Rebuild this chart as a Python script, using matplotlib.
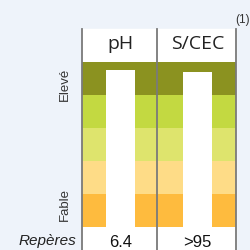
import numpy as np
import matplotlib.pyplot as plt

# Data
parametres = ['pH', 'S/CEC']
niveaux = [4.76, 4.70]          # hauteur des barres (sur 5 classes)
reperes = ['6.4', '>95']
classes_couleurs = ['#febb3e', '#fedc87', '#dee46d', '#c3d941', '#8b9220']

W = 251.0
fig = plt.figure(figsize=(2.51, 2.51), dpi=100)
fig.patch.set_facecolor('#eef3fa')

# white header / footer behind the columns
bgback = fig.add_axes([0, 0, 1, 1], zorder=-1)
bgback.set_xlim(0, W)
bgback.set_ylim(W, 0)
bgback.axis('off')
bgback.add_patch(plt.Rectangle((82, 30), 154, 221, color='white'))

# main axes: bands + bars
ax = fig.add_axes([82 / W, (W - 228) / W, 154 / W, 165 / W])
ax.set_xlim(-0.5, 1.5)
ax.set_ylim(0, 5)
for i, c in enumerate(classes_couleurs):
    ax.axhspan(i, i + 1, color=c, zorder=0, lw=0)
x = np.arange(len(parametres))
ax.bar(x, niveaux, width=0.365, color='white', zorder=2)
ax.axis('off')

# overlay: separators and labels
bg = fig.add_axes([0, 0, 1, 1], zorder=3)
bg.set_xlim(0, W)
bg.set_ylim(W, 0)
bg.axis('off')
bg.patch.set_alpha(0)
for xp in [82, 157.5, 236]:
    bg.plot([xp, xp], [30, 251], color='#7a7a7a', lw=1.3)

for xi, p, r in zip(x, parametres, reperes):
    ax.text(xi, 5.58, p, ha='center', va='center', fontsize=14,
            family='Open Sans', color='#222222', clip_on=False)
    ax.text(xi, -0.45, r, ha='center', va='center', fontsize=12,
            family='Liberation Sans', color='#111111', clip_on=False)

bg.text(65, 84, 'Elevé', rotation=90, ha='center', va='center', fontsize=9.5,
        family='Liberation Sans', color='#333333')
bg.text(65, 205, 'Fable', rotation=90, ha='center', va='center', fontsize=9.5,
        family='Liberation Sans', color='#333333')
bg.text(47, 241, 'Repères', ha='center', va='center', fontsize=11,
        style='italic', family='Liberation Sans', color='#222222')
bg.text(243, 20, '(1)', ha='center', va='center', fontsize=8.5,
        family='Liberation Sans', color='#333333')

fig.savefig('out.png', dpi=100, facecolor=fig.get_facecolor())
